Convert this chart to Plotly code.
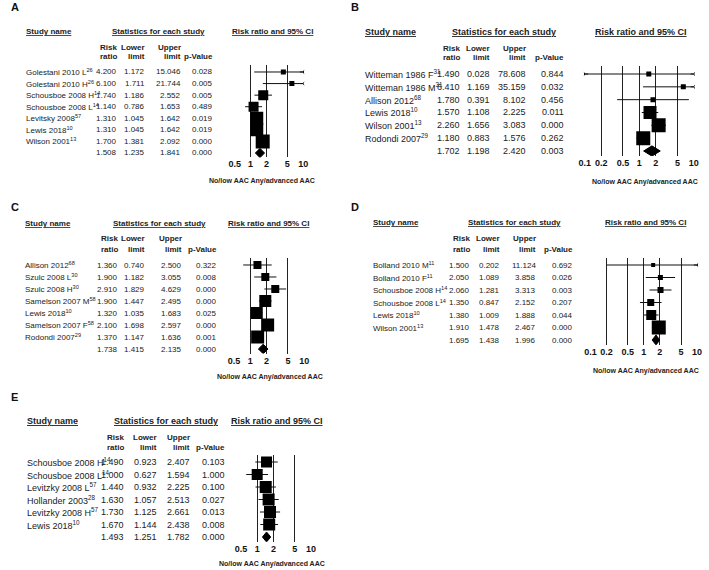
import math
import plotly.graph_objects as go

W, H = 709, 570
FONT = "Liberation Sans, Arial, sans-serif"

# ---------------- data ----------------
a_names = ["Golestani 2010 L<sup>26</sup>", "Golestani 2010 H<sup>26</sup>", "Schousboe 2008 H<sup>14</sup>",
           "Schousboe 2008 L<sup>14</sup>", "Levitsky 2008<sup>57</sup>", "Lewis 2018<sup>10</sup>",
           "Wilson 2001<sup>13</sup>"]
a_rr = [4.200, 6.100, 1.740, 1.140, 1.310, 1.310, 1.700]
a_lo = [1.172, 1.711, 1.186, 0.786, 1.045, 1.045, 1.381]
a_up = [15.046, 21.744, 2.552, 1.653, 1.642, 1.642, 2.092]
a_p = [0.028, 0.005, 0.005, 0.489, 0.019, 0.019, 0.000]
a_pooled = [1.508, 1.235, 1.841, 0.000]

b_names = ["Witteman 1986 F<sup>31</sup>", "Witteman 1986 M<sup>31</sup>", "Allison 2012<sup>68</sup>",
           "Lewis 2018<sup>10</sup>", "Wilson 2001<sup>13</sup>", "Rodondi 2007<sup>29</sup>"]
b_rr = [1.490, 6.410, 1.780, 1.570, 2.260, 1.180]
b_lo = [0.028, 1.169, 0.391, 1.108, 1.656, 0.883]
b_up = [78.608, 35.159, 8.102, 2.225, 3.083, 1.576]
b_p = [0.844, 0.032, 0.456, 0.011, 0.000, 0.262]
b_pooled = [1.702, 1.198, 2.420, 0.003]

c_names = ["Allison 2012<sup>68</sup>", "Szulc 2008 L<sup>30</sup>", "Szulc 2008 H<sup>30</sup>",
           "Samelson 2007 M<sup>58</sup>", "Lewis 2018<sup>10</sup>", "Samelson 2007 F<sup>58</sup>",
           "Rodondi 2007<sup>29</sup>"]
c_rr = [1.360, 1.900, 2.910, 1.900, 1.320, 2.100, 1.370]
c_lo = [0.740, 1.182, 1.829, 1.447, 1.035, 1.698, 1.147]
c_up = [2.500, 3.055, 4.629, 2.495, 1.683, 2.597, 1.636]
c_p = [0.322, 0.008, 0.000, 0.000, 0.025, 0.000, 0.001]
c_pooled = [1.738, 1.415, 2.135, 0.000]

d_names = ["Bolland 2010 M<sup>11</sup>", "Bolland 2010 F<sup>11</sup>", "Schousboe 2008 H<sup>14</sup>",
           "Schousboe 2008 L<sup>14</sup>", "Lewis 2018<sup>10</sup>", "Wilson 2001<sup>13</sup>"]
d_rr = [1.500, 2.050, 2.060, 1.350, 1.380, 1.910]
d_lo = [0.202, 1.089, 1.281, 0.847, 1.009, 1.478]
d_up = [11.124, 3.858, 3.313, 2.152, 1.888, 2.467]
d_p = [0.692, 0.026, 0.003, 0.207, 0.044, 0.000]
d_pooled = [1.695, 1.438, 1.996, 0.000]

e_names = ["Schousboe 2008 H<sup>14</sup>", "Schousboe 2008 L<sup>14</sup>", "Levitzky 2008 L<sup>57</sup>",
           "Hollander 2003<sup>28</sup>", "Levitzky 2008 H<sup>57</sup>", "Lewis 2018<sup>10</sup>"]
e_rr = [1.490, 1.000, 1.440, 1.630, 1.730, 1.670]
e_lo = [0.923, 0.627, 0.932, 1.057, 1.125, 1.144]
e_up = [2.407, 1.594, 2.225, 2.513, 2.661, 2.438]
e_p = [0.103, 1.000, 0.100, 0.027, 0.013, 0.008]
e_pooled = [1.493, 1.251, 1.782, 0.000]

ticks_short = [0.5, 1, 2, 5, 10]
ticks_long = [0.1, 0.2, 0.5, 1, 2, 5, 10]
footer = "No/low AAC Any/advanced AAC"

# ---------------- placement of each panel (pixels) ----------------
panels = [
    dict(key="A", names=a_names, rr=a_rr, lo=a_lo, up=a_up, p=a_p, pooled=a_pooled, ticks=ticks_short,
         label=(4, 7), name_x=19, cols=[115, 144, 180, 213], stats_c=155.5, ci_c=271,
         head_y=32, sub_y=(47, 57), row0=72, last=153, xpx=(232.7, 302), foot=(260, 181), fs=8, hs=8,
         sizes=[5, 5, 10, 10, 13, 13, 14]),
    dict(key="B", names=b_names, rr=b_rr, lo=b_lo, up=b_up, p=b_p, pooled=b_pooled, ticks=ticks_long,
         label=(348, 7), name_x=363, cols=[463, 493, 530, 568], stats_c=505.5, ci_c=644,
         head_y=32, sub_y=(48, 58), row0=74, last=151, xpx=(587.3, 697.7), foot=(648, 182), fs=9, hs=8,
         sizes=[5, 5, 5, 13, 14, 14]),
    dict(key="C", names=c_names, rr=c_rr, lo=c_lo, up=c_up, p=c_p, pooled=c_pooled, ticks=ticks_short,
         label=(4, 207), name_x=18, cols=[116, 144, 181, 217], stats_c=156.5, ci_c=267,
         head_y=223, sub_y=(239, 249), row0=265, last=349, xpx=(232, 303), foot=(268, 377), fs=8, hs=8,
         sizes=[8, 8, 8, 12, 12, 13, 13]),
    dict(key="D", names=d_names, rr=d_rr, lo=d_lo, up=d_up, p=d_p, pooled=d_pooled, ticks=ticks_long,
         label=(348, 207), name_x=371, cols=[473, 503, 540, 577], stats_c=516.5, ci_c=649,
         head_y=222, sub_y=(239, 249), row0=265, last=340, xpx=(593, 701), foot=(649, 371), fs=8, hs=8,
         sizes=[4, 5, 6, 7, 10, 14]),
    dict(key="E", names=e_names, rr=e_rr, lo=e_lo, up=e_up, p=e_p, pooled=e_pooled, ticks=ticks_short,
         label=(4, 397), name_x=20, cols=[123, 156, 189, 225], stats_c=163.5, ci_c=275,
         head_y=421, sub_y=(437, 447), row0=462, last=537, xpx=(239, 310), foot=(270, 564), fs=9, hs=8,
         sizes=[11, 11, 12, 12, 12, 12]),
]


def px(x):
    return x / W


def py(y):
    return 1 - y / H


fig = go.Figure()
annotations = []
layout = {}
INK = "#000"

for k, pn in enumerate(panels, start=1):
    xa, ya = "x%d" % k, "y%d" % k
    n = len(pn["names"])
    tmin, tmax = pn["ticks"][0], pn["ticks"][-1]
    fs = pn["fs"]

    # x axis: log scale, outer ticks at the plot edges (1 px padding)
    per_dec = (pn["xpx"][1] - pn["xpx"][0]) / (math.log10(tmax) - math.log10(tmin))
    pad = 1.0
    xr = [math.log10(tmin) - pad / per_dec, math.log10(tmax) + pad / per_dec]
    xdom = [px(pn["xpx"][0] - pad), px(pn["xpx"][1] + pad)]

    # y axis: one row per study, pooled row last
    sp = (pn["last"] - pn["row0"]) / n
    top_px = pn["row0"] - 0.6 * sp
    bot_px = pn["last"] + 0.38 * sp
    ydom = [py(bot_px), py(top_px)]

    layout["xaxis%d" % k] = dict(
        type="log", range=xr, domain=xdom, anchor=ya,
        tickvals=pn["ticks"], ticktext=["<b>%g</b>" % t for t in pn["ticks"]],
        showgrid=True, gridcolor="#222", gridwidth=1, zeroline=False, showline=False,
        ticks="", tickfont=dict(family=FONT, size=9, color="#111"),
        fixedrange=True,
    )
    layout["yaxis%d" % k] = dict(
        range=[n + 0.38, -0.6], domain=ydom, anchor=xa, visible=False, fixedrange=True,
    )

    # confidence interval lines, clipped to the drawn scale
    cx, cy = [], []
    arrows_r, arrows_l = [], []
    for i in range(n):
        cx += [max(pn["lo"][i], tmin), min(pn["up"][i], tmax), None]
        cy += [i, i, None]
        if pn["up"][i] > tmax:
            arrows_r.append(i)
        if pn["lo"][i] < tmin:
            arrows_l.append(i)
    fig.add_trace(go.Scatter(x=cx, y=cy, xaxis=xa, yaxis=ya, mode="lines",
                             line=dict(color="#111", width=1), hoverinfo="skip", showlegend=False))
    if arrows_r:
        fig.add_trace(go.Scatter(x=[tmax] * len(arrows_r), y=arrows_r, xaxis=xa, yaxis=ya, mode="markers",
                                 marker=dict(symbol="y-left-open", size=4, color="#111",
                                             line=dict(color="#111", width=1)),
                                 hoverinfo="skip", showlegend=False))
    if arrows_l:
        fig.add_trace(go.Scatter(x=[tmin] * len(arrows_l), y=arrows_l, xaxis=xa, yaxis=ya, mode="markers",
                                 marker=dict(symbol="y-right-open", size=4, color="#111",
                                             line=dict(color="#111", width=1)),
                                 hoverinfo="skip", showlegend=False))

    # study squares
    fig.add_trace(go.Scatter(x=pn["rr"], y=list(range(n)), xaxis=xa, yaxis=ya, mode="markers",
                             marker=dict(symbol="square", size=pn["sizes"], color=INK, opacity=1,
                                         line=dict(width=0)),
                             showlegend=False))

    # pooled diamond
    est, plo, pup = pn["pooled"][0], pn["pooled"][1], pn["pooled"][2]
    fig.add_trace(go.Scatter(x=[plo, est, pup, est, plo], y=[n, n - 0.4, n, n + 0.4, n],
                             xaxis=xa, yaxis=ya, mode="lines", fill="toself", fillcolor=INK,
                             line=dict(color=INK, width=1), hoverinfo="skip", showlegend=False))

    # ---- text table ----
    tfont = dict(family=FONT, size=fs, color="#222")
    sfont = dict(family=FONT, size=pn["hs"], color="#222")

    def add(text, x, y, xanchor, font, yref="paper"):
        annotations.append(dict(text=text, x=px(x), y=(y if yref != "paper" else py(y)),
                                xref="paper", yref=yref, xanchor=xanchor, yanchor="middle",
                                showarrow=False, font=font))

    add("<b>%s</b>" % pn["key"], pn["label"][0], pn["label"][1], "left",
        dict(family=FONT, size=11, color="#111"))
    add("<b><u>Study name</u></b>", pn["name_x"], pn["head_y"], "left", tfont)
    add("<b><u>Statistics for each study</u></b>", pn["stats_c"], pn["head_y"], "center", tfont)
    add("<b><u>Risk ratio and 95% CI</u></b>", pn["ci_c"], pn["head_y"], "center", tfont)
    for col, (l1, l2) in zip(pn["cols"], [("Risk", "ratio"), ("Lower", "limit"), ("Upper", "limit"), ("", "p-Value")]):
        if l1:
            add("<b>%s</b>" % l1, col, pn["sub_y"][0], "right", sfont)
        add("<b>%s</b>" % l2, col, pn["sub_y"][1], "right", sfont)

    rows = [(pn["names"][i], pn["rr"][i], pn["lo"][i], pn["up"][i], pn["p"][i]) for i in range(n)]
    rows.append(("", pn["pooled"][0], pn["pooled"][1], pn["pooled"][2], pn["pooled"][3]))
    for i, (nm, r, l, u, pv) in enumerate(rows):
        if nm:
            add(nm, pn["name_x"], i, "left", tfont, yref=ya)
        for col, v in zip(pn["cols"], [r, l, u, pv]):
            add("%.3f" % v, col, i, "right", tfont, yref=ya)

    add("<b>%s</b>" % footer, pn["foot"][0], pn["foot"][1], "center",
        dict(family=FONT, size=7, color="#222"))

fig.update_layout(
    width=W, height=H, margin=dict(l=0, r=0, t=0, b=0),
    paper_bgcolor="white", plot_bgcolor="white",
    annotations=annotations, showlegend=False,
    **layout,
)

# the page's default body margin would push the 709x570 figure out of the window
fig.write_html("out.html", config={"displayModeBar": False},
               post_script="document.body.style.margin='0px';")
